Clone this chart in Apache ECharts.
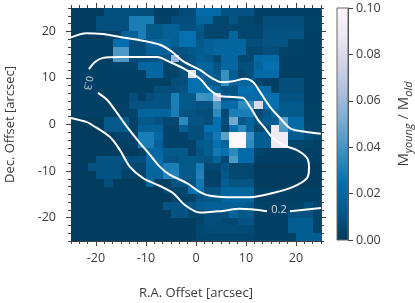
<!DOCTYPE html>
<html><head><meta charset="utf-8">
<style>html,body{margin:0;padding:0;background:#fff}#c{width:415px;height:303px}</style>
<script src="https://cdn.jsdelivr.net/npm/echarts@6/dist/echarts.min.js"></script>
</head><body><div id="c"></div>
<script>
// Mass-ratio map, per-mille units, top row first (30 x 30 cells)
const r00=[2,2,2,2,9,9,9,8,8,8,3,3,3,7,7,22,22,22,10,10,10,10,3,3,3,3,3,3,3,3];
const r01=[2,2,2,9,9,9,9,30,30,30,4,4,8,8,8,18,18,5,5,10,5,5,3,8,8,8,8,8,4,4];
const r02=[2,2,2,9,9,9,9,30,30,12,12,16,16,9,9,12,5,5,5,6,5,5,5,9,9,9,9,9,4,4];
const r03=[2,2,2,2,4,4,16,16,30,12,12,16,16,25,25,10,5,5,5,18,5,5,5,10,10,10,10,10,3,3];
const r04=[3,3,3,3,3,24,24,8,8,18,18,18,14,25,25,12,16,18,18,18,18,8,8,10,10,10,4,4,3,3];
const r05=[3,3,3,3,3,42,42,8,8,16,16,16,10,10,12,14,16,20,20,20,20,6,6,9,9,4,4,4,3,3];
const r06=[3,3,3,3,3,42,42,8,8,10,10,10,58,8,10,14,12,6,20,20,6,6,22,22,22,3,3,3,3,3];
const r07=[3,3,3,3,3,4,4,4,20,20,20,5,5,8,10,18,18,10,20,20,8,8,18,25,25,3,3,3,3,3];
const r08=[3,3,3,3,3,3,3,3,3,20,20,4,5,8,85,16,16,12,38,14,6,8,22,22,22,3,3,3,3,3];
const r09=[3,3,3,3,3,3,3,3,3,3,3,3,8,8,25,25,14,12,38,16,18,18,6,3,3,8,8,8,3,3];
const r10=[3,3,3,3,3,3,3,3,3,3,8,8,8,10,25,25,25,18,10,10,25,25,22,22,3,8,8,8,3,3];
const r11=[3,3,3,3,3,3,3,8,3,8,10,10,30,12,12,40,38,70,12,12,22,22,22,25,25,10,10,10,3,3];
const r12=[3,3,3,3,3,3,3,10,10,10,10,10,30,12,12,10,10,42,22,22,35,35,80,25,25,12,12,12,3,3];
const r13=[3,3,3,3,3,3,3,5,18,18,18,18,30,10,10,8,8,35,6,30,30,30,6,12,20,12,12,12,4,4];
const r14=[2,2,2,2,12,12,12,4,12,12,10,6,6,35,10,10,8,25,8,50,12,18,10,14,14,45,22,22,4,4];
const r15=[2,2,2,2,12,12,12,3,16,16,16,4,4,16,8,8,25,25,5,25,35,18,6,8,90,42,22,22,5,4];
const r16=[2,2,2,2,2,4,4,4,30,30,20,4,4,4,8,8,16,28,45,100,100,38,14,14,90,90,14,14,8,5];
const r17=[2,2,2,2,2,3,3,3,30,30,16,4,4,4,4,12,14,25,18,100,100,35,14,14,90,90,5,5,5,3];
const r18=[2,2,2,2,2,2,2,2,3,20,20,12,12,12,4,10,14,28,25,35,22,22,5,3,3,3,3,3,3,3];
const r19=[2,2,2,10,10,10,10,8,8,22,22,10,10,12,12,12,10,18,6,42,22,22,3,3,3,3,3,3,3,3];
const r20=[2,2,10,10,10,10,6,6,6,20,20,30,30,12,12,30,6,6,10,6,6,6,2,2,2,2,2,2,2,2];
const r21=[2,2,2,10,10,10,4,4,4,18,18,32,32,12,12,32,4,4,12,6,6,6,2,2,2,2,2,2,2,2];
const r22=[2,2,2,2,8,2,2,2,2,18,3,3,10,10,10,28,4,4,14,10,10,10,2,2,2,2,2,2,2,2];
const r23=[2,2,2,2,2,2,2,2,2,2,2,5,5,5,25,25,10,10,18,18,18,18,3,3,3,3,3,3,3,3];
const r24=[2,2,2,2,2,2,2,2,2,2,2,2,4,4,4,10,12,12,20,20,20,20,3,3,3,3,3,3,3,3];
const r25=[2,2,2,2,2,2,2,2,2,2,2,10,10,10,10,14,16,16,16,16,16,12,4,4,4,4,4,4,8,4];
const r26=[2,2,2,2,2,2,2,2,2,2,2,2,10,10,5,5,8,8,8,18,12,12,3,3,3,3,10,10,10,4];
const r27=[2,2,2,2,2,2,2,2,2,2,2,2,2,2,2,4,8,8,6,6,10,10,3,3,3,3,14,14,14,4];
const r28=[2,2,2,2,2,2,2,2,2,2,2,2,2,2,2,6,7,7,7,7,7,7,3,3,3,3,14,14,14,4];
const r29=[2,2,2,2,2,2,2,2,2,2,2,2,2,2,2,5,5,5,5,5,5,5,3,3,3,3,3,14,14,14];
const mapRows=[r00,r01,r02,r03,r04,r05,r06,r07,r08,r09,r10,r11,r12,r13,r14,r15,r16,r17,r18,r19,r20,r21,r22,r23,r24,r25,r26,r27,r28,r29];

// Contours in arcsec
const contourUpper=[[-25,18.7],[-21.9,19.6],[-18.6,19.4],[-15.2,18.8],[-11.2,18.1],[-7.2,17.1],[-4.8,15.6],[-2.6,13.6],[0.8,11.7],[2.8,10.2],[5.2,9.1],[7.4,9.3],[9.8,9.8],[11.4,9.1],[12.8,7],[14.8,3.8],[16.8,1.4],[18.8,-0.8],[20.8,-1.4],[25,-2]];
const contourMiddle=[[-19.6,6.8],[-17.8,5.3],[-15.8,2.5],[-13.6,-0.8],[-11.2,-4],[-9.2,-6.5],[-7.2,-9.1],[-5.2,-10.8],[-1.8,-12.6],[0.8,-14.5],[2.8,-15.3],[6.2,-15.6],[10.8,-15.6],[15.4,-14.7],[19.4,-13.4],[22.2,-11.5],[22.6,-9.3],[22.2,-7.2],[20.2,-5.5],[17.4,-4.4],[15.2,-2.7],[13.8,-0.8],[12.4,1],[10.8,3.8],[9.4,5.7],[7.4,5.9],[4.8,6.1],[2.8,7.4],[0.8,9.8],[-2.6,12.1],[-5.2,13.4],[-7.8,14.5],[-11.8,14.5],[-15.2,14.5],[-18.6,14.3],[-20.2,13.4],[-21.4,11.9]];
const contourLowerA=[[-25,1.4],[-21.8,0.5],[-20.8,-0.1],[-17.2,-2.7],[-15.2,-5.5],[-13.2,-9.1],[-10.6,-11.5],[-7.2,-13.2],[-4.6,-14.7],[-2.2,-17.3],[0.8,-18.9],[4.8,-18.6],[8.8,-18.1],[14.2,-18.6]];
const contourLowerB=[[18.8,-18.6],[25,-17.9]];
const contourLabels=[[16.6,-18.3,'0.2',0],[-21.6,8.9,'0.3',-100]];

const axisTicks=[-20,-10,0,10,20];
const colorTicks=[0,0.02,0.04,0.06,0.08,0.1];
const colorMinor=[0.005,0.01,0.015,0.025,0.03,0.035,0.045,0.05,0.055,0.065,0.07,0.075,0.085,0.09,0.095];
const palette=['#023858','#045a8d','#0570b0','#3690c0','#74a9cf','#a6bddb','#d0d1e6','#ece7f2','#fff7fb'];

const N=mapRows.length, cell=50/N;
const edges=Array.from({length:N+1},(_,i)=>-25+i*cell);
const heat=[];
mapRows.forEach((row,j)=>row.forEach((v,i)=>heat.push([-25+(i+0.5)*cell,25-(j+0.5)*cell,v/1000])));

const FONT='Open Sans', TXT='#3a3a3a', LINE='#404040';
const snap=v=>Math.round(Math.round(v*100)/100);
function xAx(pos,vals,len,labels){return {type:'value',gridIndex:0,min:-25,max:25,position:pos,
  axisLine:{show:true,onZero:false,lineStyle:{color:LINE,width:1}},
  axisTick:{show:true,customValues:vals,length:len,lineStyle:{color:LINE,width:1}},
  axisLabel:labels?{show:true,customValues:axisTicks,color:TXT,fontFamily:FONT,fontSize:12.5,margin:11}:{show:false},
  splitLine:{show:false},
  name:labels?'R.A. Offset [arcsec]':'',nameLocation:'middle',nameGap:46,nameTextStyle:{color:TXT,fontFamily:FONT,fontSize:13}};}
function yAx(pos,vals,len,labels){const a=xAx(pos,vals,len,labels);
  if(labels){a.name='Dec. Offset [arcsec]';a.nameGap=54;a.axisLabel.margin=15;}
  return a;}

const chart=echarts.init(document.getElementById('c'),null,{renderer:'canvas'});
chart.setOption({
  animation:false,backgroundColor:'#fff',
  grid:[{left:71,top:8,width:250,height:233,outerBoundsMode:'none'},{left:337,top:8,width:11,height:232,outerBoundsMode:'none'}],
  xAxis:[xAx('bottom',axisTicks,5,true),xAx('top',axisTicks,5,false),xAx('bottom',edges,3,false),xAx('top',edges,3,false),
    {type:'value',gridIndex:1,min:0,max:1,axisLine:{show:false},axisTick:{show:false},axisLabel:{show:false},splitLine:{show:false}}],
  yAxis:[yAx('left',axisTicks,5,true),yAx('right',axisTicks,5,false),yAx('left',edges,3,false),yAx('right',edges,3,false),
    {type:'value',gridIndex:1,min:0,max:0.1,position:'right',
     axisLine:{show:true,onZero:false,lineStyle:{color:LINE}},
     axisTick:{show:true,customValues:colorTicks,length:5,lineStyle:{color:LINE}},
     axisLabel:{show:true,customValues:colorTicks,color:TXT,fontFamily:FONT,fontSize:12.5,margin:8,formatter:v=>v.toFixed(2)},
     splitLine:{show:false},
     name:'M{s|young} / M{s|old}',nameLocation:'middle',nameGap:46,nameRotate:90,
     nameTextStyle:{color:TXT,fontFamily:FONT,fontSize:15,rich:{s:{fontSize:11,fontStyle:'italic',verticalAlign:'bottom',lineHeight:20,fontFamily:FONT,color:TXT}}}},
    {type:'value',gridIndex:1,min:0,max:0.1,position:'right',
     axisLine:{show:false},axisTick:{show:true,customValues:colorMinor,length:3,lineStyle:{color:LINE}},
     axisLabel:{show:false},splitLine:{show:false}}],
  visualMap:{show:false,min:0,max:0.1,dimension:2,seriesIndex:0,inRange:{color:palette}},
  series:[
    {type:'custom',xAxisIndex:0,yAxisIndex:0,data:heat,encode:{x:0,y:1},clip:true,z:1,
     renderItem(p,api){const x=api.value(0),y=api.value(1);
       const a=api.coord([x-cell/2,y+cell/2]),b=api.coord([x+cell/2,y-cell/2]);
       const c=api.visual('color');
       const x0=snap(a[0]),y0=snap(a[1]),x1=snap(b[0]),y1=snap(b[1]);
       return {type:'rect',shape:{x:x0,y:y0,width:x1-x0,height:y1-y0},style:{fill:c}};}},
    ...[contourUpper,contourMiddle,contourLowerA,contourLowerB].map(d=>({type:'line',xAxisIndex:0,yAxisIndex:0,data:d,smooth:0.3,showSymbol:false,symbol:'none',z:3,
      lineStyle:{color:'#fff',width:2}})),
    {type:'scatter',xAxisIndex:0,yAxisIndex:0,z:4,symbolSize:0,data:contourLabels.map(d=>({value:[d[0],d[1]],
      label:{show:true,position:'inside',formatter:d[2],rotate:d[3],color:'#fff',fontFamily:FONT,fontSize:d[3]?10:11}}))},
    {type:'custom',xAxisIndex:4,yAxisIndex:4,data:[[0,1,0,0.1]],z:1,
     renderItem(p,api){const a=api.coord([0,0.1]),b=api.coord([1,0]);
       return {type:'rect',shape:{x:a[0],y:a[1],width:b[0]-a[0],height:b[1]-a[1]},
         style:{stroke:'#666',lineWidth:1,fill:new echarts.graphic.LinearGradient(0,1,0,0,palette.map((c,i)=>({offset:i/(palette.length-1),color:c})))}};}}
  ]
});
</script></body></html>
